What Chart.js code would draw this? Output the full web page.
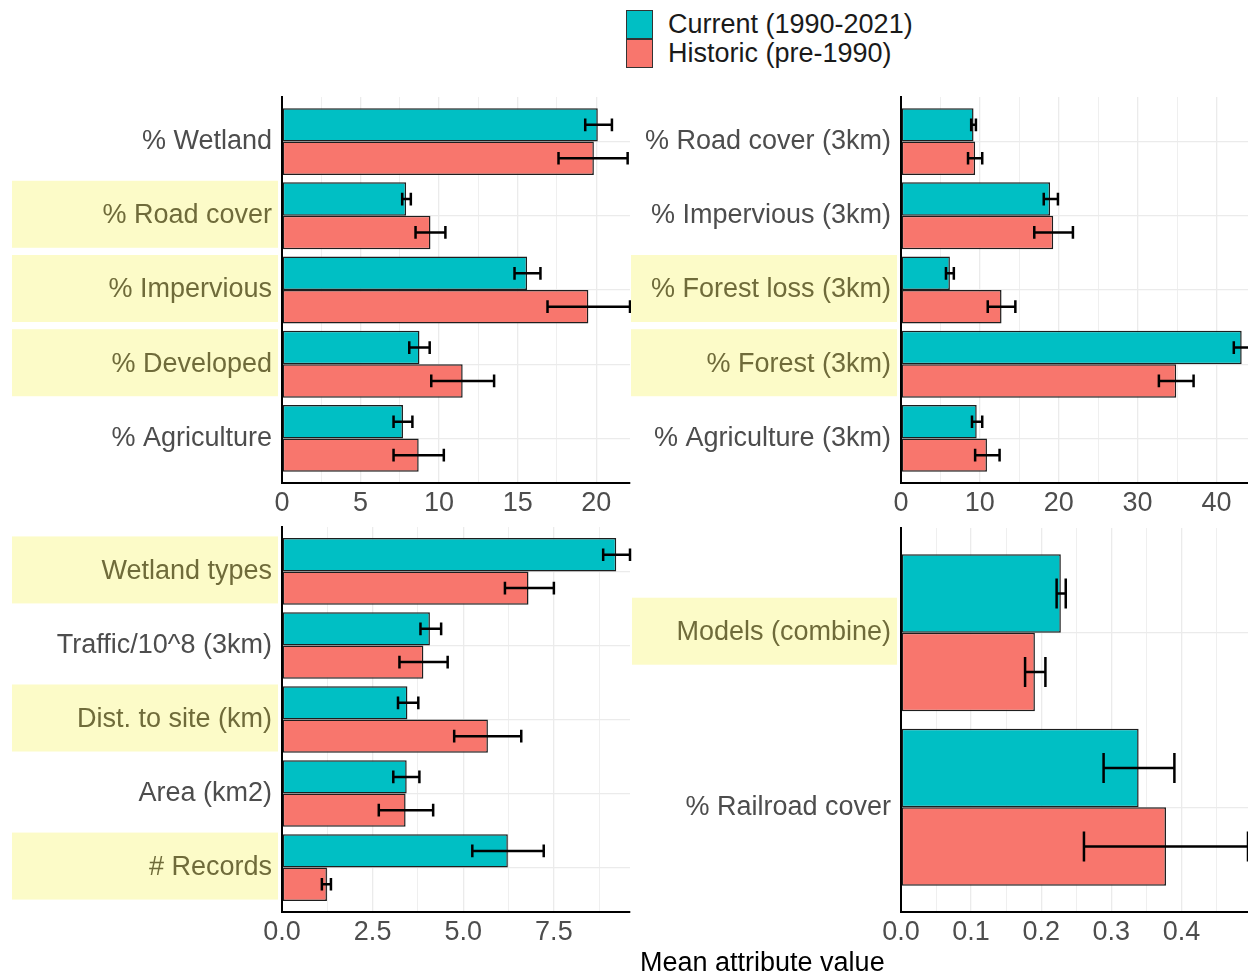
<!DOCTYPE html>
<html>
<head>
<meta charset="utf-8">
<script src="https://cdn.jsdelivr.net/npm/chart.js@4.4.1/dist/chart.umd.min.js"></script>
<style>
  body { margin: 0; background: #fff; width: 1248px; height: 975px; position: relative; overflow: hidden;
         font-family: 'Liberation Sans', Arial, sans-serif; }
  canvas { position: absolute; }
  #legend { position: absolute; left: 626px; top: 10px; }
  .row { display: flex; align-items: center; height: 29px; }
  .sw { width: 27px; height: 29px; box-sizing: border-box; border: 1px solid #333; margin-right: 15px; }
  .lt { font-size: 27px; color: #1a1a1a; line-height: 29px; white-space: nowrap; }
  #xtitle { position: absolute; left: 640px; top: 946px; font-size: 27px; line-height: 32px; color: #000; white-space: nowrap; }
</style>
</head>
<body>
<div id="legend"></div>
<canvas id="p1" width="640" height="430" style="left:0;top:90px"></canvas>
<canvas id="p2" width="628" height="430" style="left:620px;top:90px"></canvas>
<canvas id="p3" width="640" height="450" style="left:0;top:520px"></canvas>
<canvas id="p4" width="628" height="450" style="left:620px;top:520px"></canvas>
<div id="xtitle">Mean attribute value</div>
<script>
// series
const seriesNames = ["Current (1990-2021)", "Historic (pre-1990)"];
const seriesColors = ["#00BFC4", "#F8766D"];

// panel 1 - local land cover
const landLabels = ["% Wetland", "% Road cover", "% Impervious", "% Developed", "% Agriculture"];
const landMarked = ["% Road cover", "% Impervious", "% Developed"];
const landCurrent = [20.1, 7.9, 15.6, 8.75, 7.7];
const landCurrentLow = [19.3, 7.65, 14.8, 8.1, 7.1];
const landCurrentHigh = [21.0, 8.2, 16.45, 9.4, 8.3];
const landHistoric = [19.85, 9.45, 19.5, 11.5, 8.7];
const landHistoricLow = [17.6, 8.5, 16.9, 9.5, 7.1];
const landHistoricHigh = [22.0, 10.4, 22.15, 13.5, 10.3];

// panel 2 - 3km buffer
const bufLabels = ["% Road cover (3km)", "% Impervious (3km)", "% Forest loss (3km)", "% Forest (3km)", "% Agriculture (3km)"];
const bufMarked = ["% Forest loss (3km)", "% Forest (3km)"];
const bufCurrent = [9.2, 18.9, 6.2, 43.2, 9.6];
const bufCurrentLow = [8.9, 18.1, 5.7, 42.2, 9.0];
const bufCurrentHigh = [9.5, 19.9, 6.7, 44.2, 10.3];
const bufHistoric = [9.4, 19.3, 12.75, 34.9, 10.9];
const bufHistoricLow = [8.5, 16.9, 11.0, 32.7, 9.4];
const bufHistoricHigh = [10.3, 21.8, 14.5, 37.1, 12.5];

// panel 3 - site attributes
const siteLabels = ["Wetland types", "Traffic/10^8 (3km)", "Dist. to site (km)", "Area (km2)", "# Records"];
const siteMarked = ["Wetland types", "Dist. to site (km)", "# Records"];
const siteCurrent = [9.22, 4.08, 3.46, 3.44, 6.23];
const siteCurrentLow = [8.86, 3.82, 3.2, 3.07, 5.25];
const siteCurrentHigh = [9.6, 4.39, 3.76, 3.79, 7.22];
const siteHistoric = [6.8, 3.9, 5.68, 3.41, 1.24];
const siteHistoricLow = [6.15, 3.24, 4.75, 2.67, 1.1];
const siteHistoricHigh = [7.5, 4.57, 6.6, 4.17, 1.35];

// panel 4 - proportions
const propLabels = ["Models (combine)", "% Railroad cover"];
const propMarked = ["Models (combine)"];
const propCurrent = [0.228, 0.339];
const propCurrentLow = [0.222, 0.289];
const propCurrentHigh = [0.235, 0.39];
const propHistoric = [0.191, 0.378];
const propHistoricLow = [0.177, 0.261];
const propHistoricHigh = [0.206, 0.495];

// x axis limits / tick steps
const xMax = [22.15, 44.0, 9.6, 0.495];
const xLabelStep = [5, 10, 2.5, 0.1];

const FONT = "'Liberation Sans', Arial, sans-serif";

// legend
const legend = document.getElementById("legend");
seriesNames.forEach((name, i) => {
  const row = document.createElement("div");
  row.className = "row";
  row.innerHTML = '<div class="sw" style="background:' + seriesColors[i] + '"></div><div class="lt"></div>';
  row.querySelector(".lt").textContent = name;
  legend.appendChild(row);
});

const errorBars = {
  id: "errorBars",
  afterDatasetsDraw(chart) {
    const ctx = chart.ctx;
    const xs = chart.scales.x;
    chart.data.datasets.forEach((ds, i) => {
      chart.getDatasetMeta(i).data.forEach((bar, j) => {
        const lo = xs.getPixelForValue(ds.errLow[j]);
        const hi = xs.getPixelForValue(ds.errHigh[j]);
        const cap = bar.height * 0.19;
        ctx.save();
        ctx.strokeStyle = "#000";
        ctx.lineWidth = 2.5;
        ctx.beginPath();
        ctx.moveTo(lo, bar.y); ctx.lineTo(hi, bar.y);
        ctx.moveTo(lo, bar.y - cap); ctx.lineTo(lo, bar.y + cap);
        ctx.moveTo(hi, bar.y - cap); ctx.lineTo(hi, bar.y + cap);
        ctx.stroke();
        ctx.restore();
      });
    });
  }
};

const labelBoxes = {
  id: "labelBoxes",
  beforeDraw(chart, args, opts) {
    const ctx = chart.ctx;
    const ys = chart.scales.y;
    ctx.save();
    ctx.fillStyle = "#fcfbc8";
    opts.marked.forEach((name) => {
      const i = opts.labels.indexOf(name);
      const c = ys.getPixelForValue(i);
      ctx.fillRect(opts.left, c - 35, opts.right - opts.left, 67);
    });
    ctx.restore();
  }
};

function makePanel(id, labels, marked, series, p, geo) {
  const isMajor = (v) => Math.abs(v / xLabelStep[p] - Math.round(v / xLabelStep[p])) < 1e-6;
  const fmt = (v) => (xLabelStep[p] < 5 ? v.toFixed(1) : String(Math.round(v)));
  new Chart(document.getElementById(id), {
    type: "bar",
    data: {
      labels: labels,
      datasets: series.map((s, i) => ({
        label: seriesNames[i],
        data: s.values.map((v, k) => ({ x: v, y: k })),
        errLow: s.low,
        errHigh: s.high,
        backgroundColor: seriesColors[i],
        borderColor: "#1e1e1e",
        borderWidth: 1.5,
        borderSkipped: false,
        categoryPercentage: 0.9,
        barPercentage: 1.0
      }))
    },
    options: {
      indexAxis: "y",
      responsive: false,
      animation: false,
      devicePixelRatio: 1,
      layout: { padding: { top: geo.top, right: geo.right, left: 0, bottom: 0 } },
      plugins: {
        legend: { display: false },
        tooltip: { enabled: false },
        labelBoxes: { labels: labels, marked: marked, left: geo.boxLeft, right: geo.boxRight }
      },
      scales: {
        y: {
          type: "linear",
          reverse: true,
          min: -0.6,
          max: labels.length - 0.4,
          offset: false,
          afterFit: (s) => { s.width = geo.yWidth; s.paddingTop = 0; s.paddingBottom = 0; },
          grid: { offset: false, color: "#ebebeb", lineWidth: 1.3, drawTicks: false },
          border: { display: true, color: "#000", width: 2 },
          ticks: {
            stepSize: 1,
            includeBounds: false,
            autoSkip: false,
            padding: 10,
            font: { family: FONT, size: 27 },
            color: (c) => (marked.includes(labels[c.tick.value]) ? "#6f6b3a" : "#4d4d4d"),
            callback: (v) => (labels[v] !== undefined ? labels[v] : "")
          }
        },
        x: {
          type: "linear",
          min: 0,
          max: xMax[p],
          afterFit: (s) => { s.height = geo.xHeight; s.paddingLeft = 0; s.paddingRight = 0; },
          grid: {
            color: "#ebebeb",
            lineWidth: (c) => (c.tick && isMajor(c.tick.value) ? 1.3 : 0.8),
            drawTicks: false
          },
          border: { display: true, color: "#000", width: 2 },
          ticks: {
            stepSize: xLabelStep[p] / 2,
            includeBounds: false,
            autoSkip: false,
            maxRotation: 0,
            padding: 4,
            font: { family: FONT, size: 27 },
            color: "#4d4d4d",
            callback: (v) => (isMajor(v) ? fmt(v) : "")
          }
        }
      }
    },
    plugins: [labelBoxes, errorBars]
  });
}

makePanel("p1", landLabels, landMarked, [
  { values: landCurrent, low: landCurrentLow, high: landCurrentHigh },
  { values: landHistoric, low: landHistoricLow, high: landHistoricHigh }
], 0, { top: 7, right: 10, yWidth: 282, xHeight: 37, boxLeft: 12, boxRight: 278 });

makePanel("p2", bufLabels, bufMarked, [
  { values: bufCurrent, low: bufCurrentLow, high: bufCurrentHigh },
  { values: bufHistoric, low: bufHistoricLow, high: bufHistoricHigh }
], 1, { top: 7, right: 0, yWidth: 281, xHeight: 37, boxLeft: 11, boxRight: 277 });

makePanel("p3", siteLabels, siteMarked, [
  { values: siteCurrent, low: siteCurrentLow, high: siteCurrentHigh },
  { values: siteHistoric, low: siteHistoricLow, high: siteHistoricHigh }
], 2, { top: 7, right: 10, yWidth: 282, xHeight: 58, boxLeft: 12, boxRight: 278 });

makePanel("p4", propLabels, propMarked, [
  { values: propCurrent, low: propCurrentLow, high: propCurrentHigh },
  { values: propHistoric, low: propHistoricLow, high: propHistoricHigh }
], 3, { top: 8, right: 0, yWidth: 281, xHeight: 58, boxLeft: 12, boxRight: 277 });
</script>
</body>
</html>
